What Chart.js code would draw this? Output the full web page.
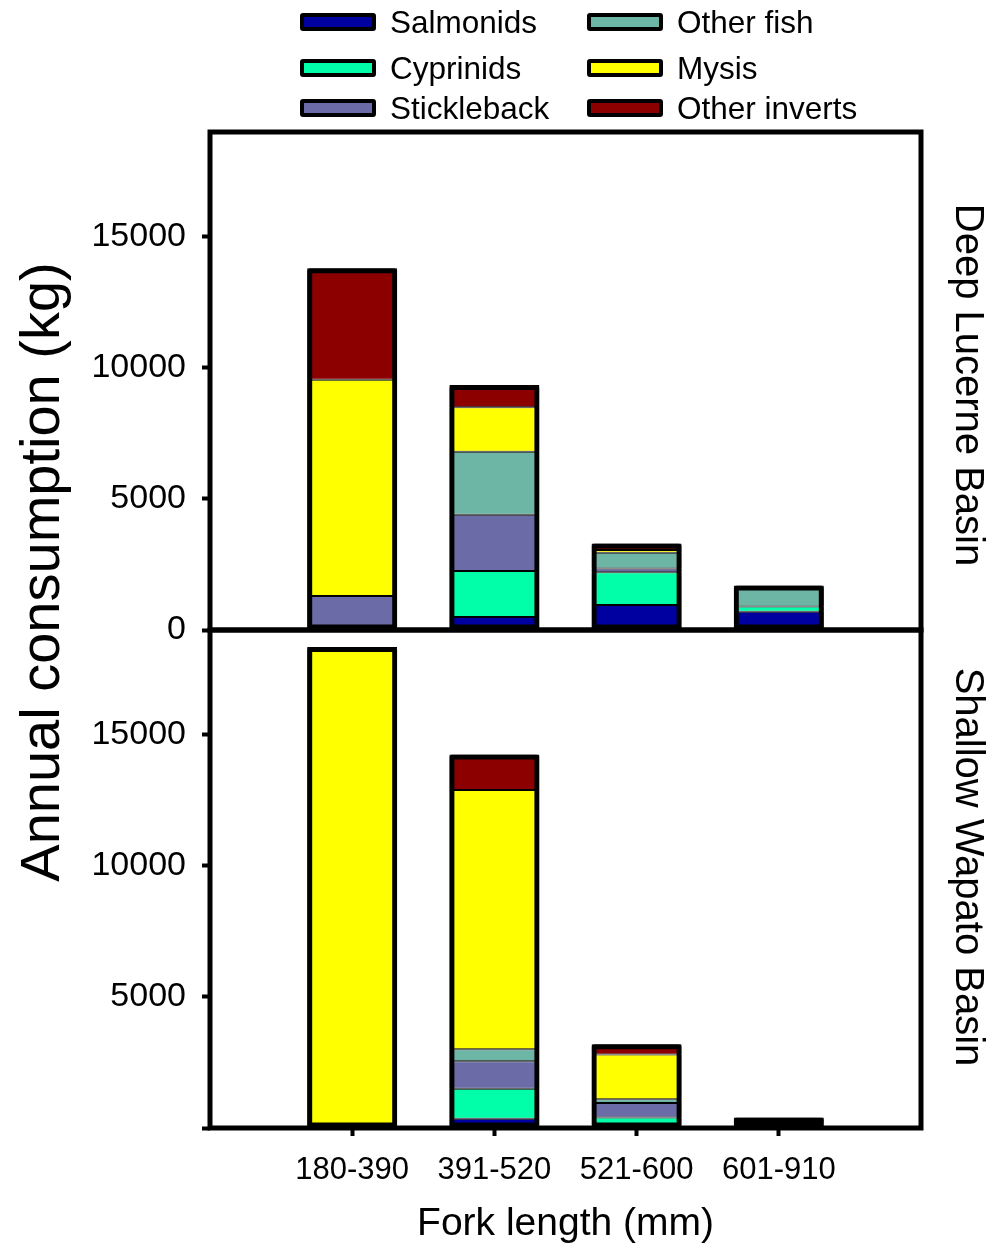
<!DOCTYPE html>
<html>
<head>
<meta charset="utf-8">
<script src="https://cdn.jsdelivr.net/npm/chart.js@4.4.1/dist/chart.umd.min.js"></script>
<style>
  html, body { margin: 0; padding: 0; background: #fff; }
  #wrap { position: relative; width: 1007px; height: 1250px; }
  #consumptionChart { position: absolute; left: 0; top: 0; }
  #legend { position: absolute; left: 0; top: 0; width: 1007px; height: 130px; }
  .item {
    position: absolute; display: flex; align-items: center; height: 30px;
    font: 31.5px "Liberation Sans", Arial, sans-serif; color: #000; white-space: nowrap;
  }
  .swatch {
    width: 68px; height: 10px; border: 4px solid #000; border-radius: 3px;
    margin-right: 14px; box-sizing: content-box;
  }
</style>
</head>
<body>
<div id="wrap">
  <canvas id="consumptionChart" width="1007" height="1250"></canvas>
  <div id="legend"></div>
</div>
<script>
const forkLengths = ['180-390', '391-520', '521-600', '601-910'];
const preyGroups = ['Salmonids', 'Cyprinids', 'Stickleback', 'Other fish', 'Mysis', 'Other inverts'];
const preyColors = ['#0000a0', '#00ffa8', '#6b6ba8', '#6db5a5', '#ffff00', '#8c0000'];
const basinNames = ['Deep Lucerne Basin', 'Shallow Wapato Basin'];

// Deep Lucerne Basin (kg)
const deepSalmonids     = [0, 500, 950, 700];
const deepCyprinids     = [0, 1750, 1250, 200];
const deepStickleback   = [1300, 2150, 150, 0];
const deepOtherFish     = [0, 2400, 600, 800];
const deepMysis         = [8250, 1700, 100, 0];
const deepOtherInverts  = [4250, 850, 250, 0];

// Shallow Wapato Basin (kg)
const shallowSalmonids    = [0, 350, 100, 120];
const shallowCyprinids    = [0, 1150, 300, 60];
const shallowStickleback  = [0, 1050, 550, 60];
const shallowOtherFish    = [0, 450, 150, 100];
const shallowMysis        = [18350, 9900, 1700, 0];
const shallowOtherInverts = [0, 1350, 400, 60];

const yMax = 19000;
const yTickValues = [0, 5000, 10000, 15000];

const deepSeries = [deepSalmonids, deepCyprinids, deepStickleback, deepOtherFish, deepMysis, deepOtherInverts];
const shallowSeries = [shallowSalmonids, shallowCyprinids, shallowStickleback, shallowOtherFish, shallowMysis, shallowOtherInverts];

// empty slot at each end so the 4 bars sit at 1/5 .. 4/5 of the axis
const xLabels = ['', ...forkLengths, ''];
const pad = arr => [null, ...arr, null];
const totals = series => forkLengths.map((_, i) => series.reduce((s, arr) => s + arr[i], 0));

Chart.defaults.font.family = '"Liberation Sans", Arial, sans-serif';
Chart.defaults.color = '#000';

// legend, two columns like the original
const legendEl = document.getElementById('legend');
const legendRows = [22, 68, 108];
const legendCols = [300, 587];
preyGroups.forEach((name, i) => {
    const item = document.createElement('div');
    item.className = 'item';
    item.style.left = legendCols[Math.floor(i / 3)] + 'px';
    item.style.top = (legendRows[i % 3] - 15) + 'px';
    const sw = document.createElement('span');
    sw.className = 'swatch';
    sw.style.background = preyColors[i];
    item.appendChild(sw);
    item.appendChild(document.createTextNode(name));
    legendEl.appendChild(item);
});

function segmentSets(series, axisId) {
    return series.map((arr, i) => ({
        label: preyGroups[i],
        data: pad(arr),
        yAxisID: axisId,
        backgroundColor: preyColors[i],
        borderColor: '#000',
        borderWidth: 1,
        borderSkipped: false,
    }));
}

function outlineSet(series, axisId) {
    return {
        label: 'total',
        data: pad(totals(series)),
        yAxisID: axisId,
        stack: 'outline',
        grouped: false,
        order: -1,
        backgroundColor: 'rgba(0,0,0,0)',
        borderColor: '#000',
        borderWidth: 5,
        borderRadius: 3,
        borderSkipped: false,
    };
}

const framePlugin = {
    id: 'frame',
    afterDatasetsDraw(chart) {
        const {ctx, chartArea} = chart;
        ctx.save();
        ctx.strokeStyle = '#000';
        ctx.lineWidth = 5;
        ['yTop', 'yBottom'].forEach(id => {
            const s = chart.scales[id];
            ctx.strokeRect(chartArea.left, s.top, chartArea.right - chartArea.left, s.bottom - s.top);
        });
        ctx.restore();
    }
};

const titlePlugin = {
    id: 'titles',
    afterDraw(chart) {
        const {ctx, chartArea} = chart;
        const top = chart.scales.yTop;
        const bottom = chart.scales.yBottom;
        ctx.save();
        ctx.fillStyle = '#000';
        ctx.textAlign = 'center';
        ctx.textBaseline = 'middle';

        ctx.font = '56px "Liberation Sans", Arial, sans-serif';
        ctx.save();
        ctx.translate(44, (chartArea.top + chartArea.bottom) / 2 - 58);
        ctx.rotate(-Math.PI / 2);
        ctx.fillText('Annual consumption (kg)', 0, 0);
        ctx.restore();

        ctx.font = '40px "Liberation Sans", Arial, sans-serif';
        [[top, 4], [bottom, -12]].forEach(([s, shift], i) => {
            ctx.save();
            ctx.translate(chartArea.right + 46, (s.top + s.bottom) / 2 + shift);
            ctx.rotate(Math.PI / 2);
            ctx.fillText(basinNames[i], 0, 0);
            ctx.restore();
        });
        ctx.restore();
    }
};

const yAxis = (hideZero) => ({
    type: 'linear',
    position: 'left',
    stack: 'panels',
    stackWeight: 1,
    stacked: true,
    min: 0,
    max: yMax,
    bounds: 'data',
    border: { display: false },
    grid: { drawOnChartArea: false, tickLength: 8, tickWidth: 4, tickColor: '#000' },
    afterBuildTicks: s => { s.ticks = yTickValues.map(v => ({ value: v })); },
    ticks: {
        padding: 16,
        font: { size: 34 },
        callback: v => (hideZero && v === 0) ? '' : String(v)
    },
    afterFit: s => { s.width = 210; }
});

new Chart(document.getElementById('consumptionChart').getContext('2d'), {
    type: 'bar',
    data: {
        labels: xLabels,
        datasets: [
            ...segmentSets(deepSeries, 'yTop'),
            ...segmentSets(shallowSeries, 'yBottom'),
            outlineSet(deepSeries, 'yTop'),
            outlineSet(shallowSeries, 'yBottom'),
        ]
    },
    options: {
        responsive: false,
        animation: false,
        layout: { padding: { top: 132, right: 86, left: 0, bottom: 0 } },
        datasets: { bar: { categoryPercentage: 1, barPercentage: 0.633 } },
        plugins: { legend: { display: false }, tooltip: { enabled: false } },
        scales: {
            x: {
                type: 'category',
                offset: false,
                stacked: true,
                border: { display: false },
                grid: {
                    offset: false,
                    drawOnChartArea: false,
                    tickLength: 8,
                    tickWidth: 4,
                    tickColor: ctx => (ctx.index === 0 || ctx.index === xLabels.length - 1) ? 'rgba(0,0,0,0)' : '#000'
                },
                ticks: { autoSkip: false, maxRotation: 0, padding: 16, font: { size: 31 } },
                title: { display: true, text: 'Fork length (mm)', font: { size: 39 }, padding: { top: 0, bottom: 2 } },
                afterFit: s => { s.height = 122; }
            },
            yBottom: yAxis(true),
            yTop: yAxis(false),
        }
    },
    plugins: [framePlugin, titlePlugin]
});
</script>
</body>
</html>
